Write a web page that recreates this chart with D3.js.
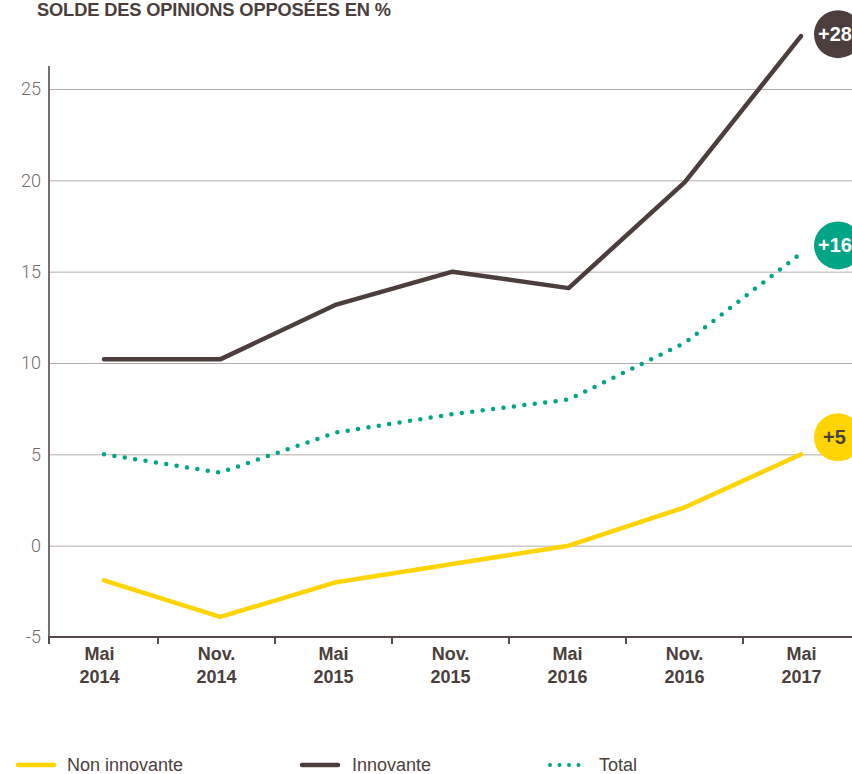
<!DOCTYPE html>
<html><head><meta charset="utf-8">
<script src="https://cdn.jsdelivr.net/npm/d3@7"></script>
<style>
html,body{margin:0;padding:0;background:#fff;}
svg{display:block;}
</style></head>
<body>
<svg id="c" width="852" height="774"></svg>
<script>
const categories = [["Mai","2014"],["Nov.","2014"],["Mai","2015"],["Nov.","2015"],["Mai","2016"],["Nov.","2016"],["Mai","2017"]];
const nonInnovante = [-1.9, -3.9, -2.0, -1.0, 0.0, 2.1, 5.0];
const innovante = [10.2, 10.2, 13.2, 15.0, 14.1, 19.9, 27.9];
const total = [5.0, 4.0, 6.2, 7.2, 8.0, 11.1, 16.0];
const yTicks = [-5, 0, 5, 10, 15, 20, 25];
const badges = [{label:"+28", value:28, series:"innovante"},{label:"+16", value:16, series:"total"},{label:"+5", value:5, series:"non"}];

const colors = {non:"#ffd400", innovante:"#4b3e3c", total:"#00a586"};
const textCol = "#4b3f3d";

const svg = d3.select("#c");
const axisX = 49, plotTop = 66, plotBottom = 637;
const y = d3.scaleLinear().domain([-5, 25]).range([637, 89]);
const idx = categories.map((d,i)=>i);
const xBand = d3.scaleBand().domain(idx).range([41, 860]);
const xPt = d3.scalePoint().domain(idx).range([104, 801]);

// title
svg.append("text").attr("x", 37).attr("y", 16)
  .attr("font-family","Liberation Sans, Arial, sans-serif").attr("font-weight","bold")
  .attr("font-size", 18.3).attr("fill", textCol).attr("letter-spacing","-0.15")
  .text("SOLDE DES OPINIONS OPPOSÉES EN %");

// gridlines
const yAxis = d3.axisLeft(y).tickValues(yTicks).tickSize(-(852-axisX)).tickPadding(8).tickFormat(d=>d);
const gy = svg.append("g").attr("transform",`translate(${axisX},0)`).call(yAxis);
gy.select(".domain").remove();
gy.selectAll(".tick line").attr("stroke","#b3abab").attr("stroke-width",1)
  .filter(d=>d===-5).remove();
gy.selectAll(".tick text").attr("font-family","Roboto, Liberation Sans, sans-serif")
  .attr("font-weight",300).attr("font-size",18).attr("fill","#736969").attr("x",-8);

// y axis line
svg.append("line").attr("x1",axisX).attr("x2",axisX).attr("y1",plotTop).attr("y2",plotBottom)
  .attr("stroke","#574a48").attr("stroke-width",1.6);

// x axis
const xAxis = d3.axisBottom(xBand).tickSize(0).tickFormat("");
const gx = svg.append("g").attr("transform",`translate(0,${plotBottom})`).call(xAxis);
gx.select(".domain").remove();
svg.append("line").attr("x1",axisX-1).attr("x2",852).attr("y1",plotBottom).attr("y2",plotBottom)
  .attr("stroke","#574a48").attr("stroke-width",2);
const tickXs = idx.map(i => i===0 ? axisX : xBand(i));
svg.append("g").selectAll("line").data(tickXs).join("line")
  .attr("x1",d=>d).attr("x2",d=>d).attr("y1",plotBottom).attr("y2",plotBottom+7)
  .attr("stroke","#574a48").attr("stroke-width",2);
const lbl = svg.append("g").selectAll("text").data(categories).join("text")
  .attr("text-anchor","middle").attr("font-family","Liberation Sans, Arial, sans-serif")
  .attr("font-weight","bold").attr("font-size",18).attr("fill",textCol)
  .attr("transform",(d,i)=>`translate(${xBand(i)+xBand.bandwidth()/2},0)`);
lbl.append("tspan").attr("x",0).attr("y",660).text(d=>d[0]);
lbl.append("tspan").attr("x",0).attr("y",683).text(d=>d[1]);

// lines
const line = d3.line().x((d,i)=>xPt(i)).y(d=>y(d));
svg.append("path").datum(nonInnovante).attr("d",line).attr("fill","none")
  .attr("stroke",colors.non).attr("stroke-width",4.5).attr("stroke-linecap","round").attr("stroke-linejoin","round");
svg.append("path").datum(innovante).attr("d",line).attr("fill","none")
  .attr("stroke",colors.innovante).attr("stroke-width",4.5).attr("stroke-linecap","round").attr("stroke-linejoin","round");
svg.append("path").datum(total).attr("d",line).attr("fill","none")
  .attr("stroke",colors.total).attr("stroke-width",4.5).attr("stroke-linecap","round")
  .attr("stroke-dasharray","0,10.5");

// badges
const badgeOffsets = {innovante:0, total:-8, non:-17};
const bg = svg.append("g").selectAll("g").data(badges).join("g")
  .attr("transform",d=>`translate(838,${y(d.value)+badgeOffsets[d.series]})`);
bg.append("circle").attr("r",24).attr("fill",d=>colors[d.series]);
bg.append("text").attr("x",d=>d.series==="non"?-15:-20).attr("y",7).attr("font-family","Liberation Sans, Arial, sans-serif")
  .attr("font-weight","bold").attr("font-size",20)
  .attr("fill",d=>d.series==="non"?textCol:"#fff").text(d=>d.label);

// legend
const legend = [{name:"Non innovante", key:"non", x:16},{name:"Innovante", key:"innovante", x:300},{name:"Total", key:"total", x:548}];
const lg = svg.append("g").selectAll("g").data(legend).join("g").attr("transform",d=>`translate(${d.x},765)`);
lg.append("line").attr("x1",2).attr("x2",d=>d.key==="total"?40:38).attr("y1",0).attr("y2",0)
  .attr("stroke",d=>colors[d.key]).attr("stroke-width",d=>d.key==="total"?4:4.5)
  .attr("stroke-linecap","round").attr("stroke-dasharray",d=>d.key==="total"?"0,9.5":null);
lg.append("text").attr("x",d=>d.key==="non"?51:d.key==="innovante"?52:51).attr("y",6)
  .attr("font-family","Liberation Sans Narrow, Liberation Sans, Arial, sans-serif")
  .attr("font-size",18).attr("fill",textCol).text(d=>d.name);
</script>
</body></html>
